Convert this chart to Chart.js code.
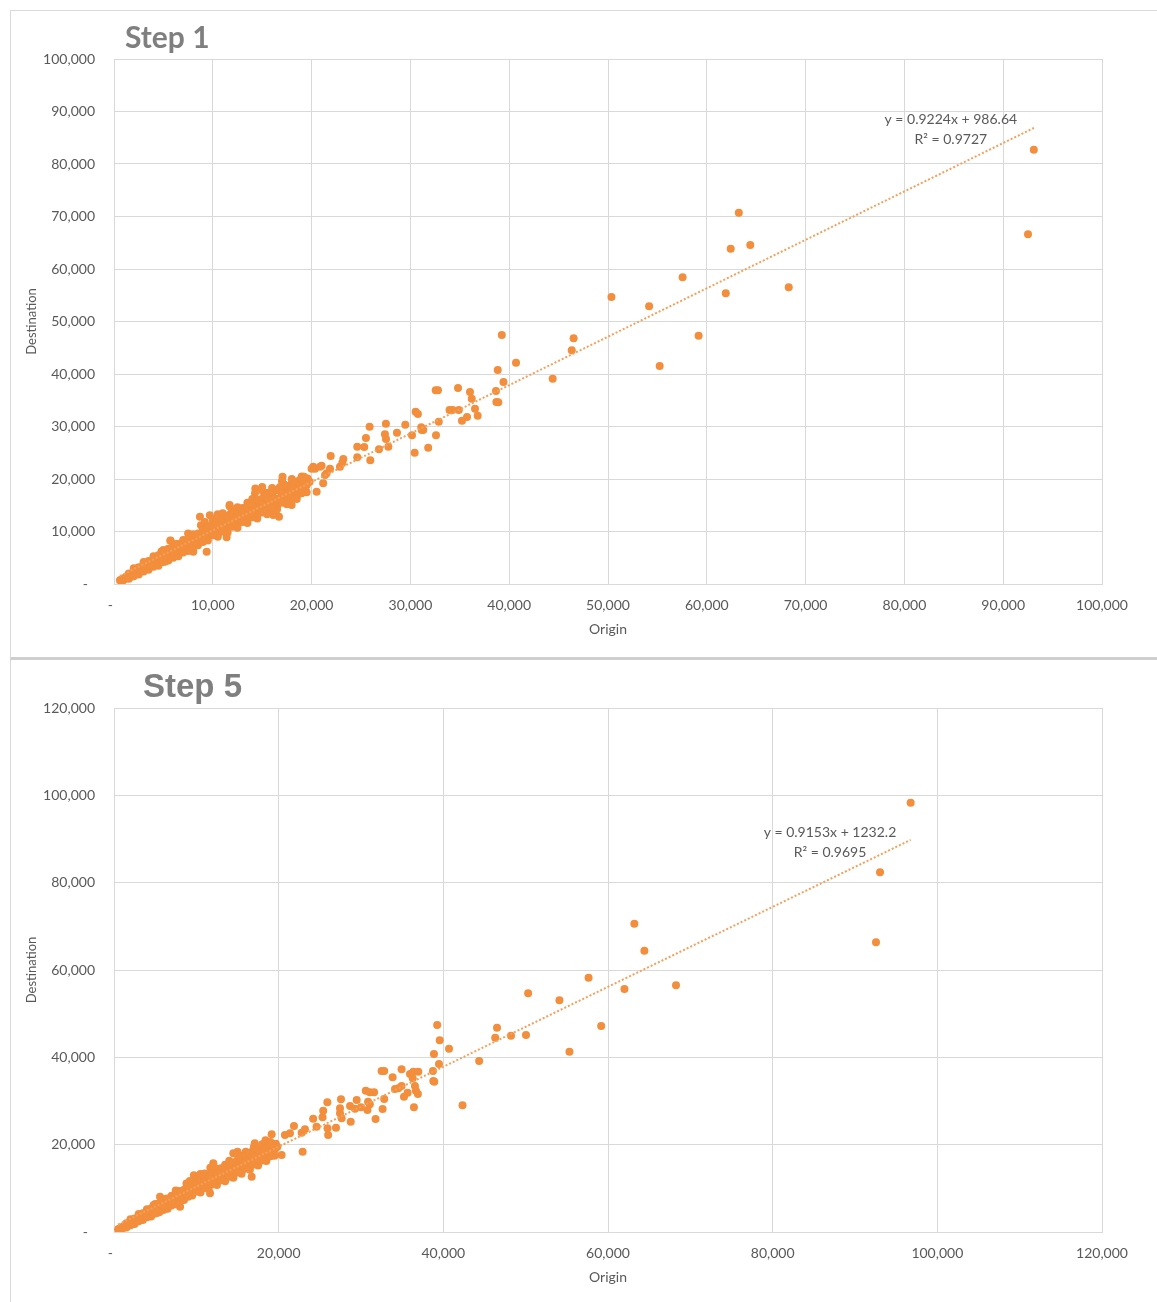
<!DOCTYPE html>
<html>
<head>
<meta charset="utf-8">
<script src="https://cdn.jsdelivr.net/npm/chart.js@4.4.0/dist/chart.umd.min.js"></script>
<style>
  html, body { margin: 0; padding: 0; background: #fff; }
  body { width: 1157px; height: 1302px; position: relative; overflow: hidden; }
  .panel { position: absolute; left: 10px; width: 1160px; box-sizing: border-box; }
  #p1 { top: 10px; height: 650px; border: 1px solid #d9d9d9; border-bottom: 3px solid #cfcfcf; }
  #p2 { top: 660px; height: 660px; border-left: 1px solid #d9d9d9; }
  .title { position: absolute; color: #7f7f7f; font-weight: bold; white-space: nowrap; }
  #t1 { left: 125px; top: 21px; font: bold 30px/30px Lato, "Open Sans", sans-serif; }
  #t2 { left: 143px; top: 669px; font: bold 33px/33px "Liberation Sans", Arial, sans-serif; }
  canvas { position: absolute; }
  #c1 { left: 10px; top: 10px; }
  #c2 { left: 10px; top: 660px; }
</style>
</head>
<body>
<div class="panel" id="p1"></div>
<div class="panel" id="p2"></div>
<canvas id="c1" width="1147" height="648"></canvas>
<canvas id="c2" width="1147" height="642"></canvas>
<div class="title" id="t1">Step 1</div>
<div class="title" id="t2">Step 5</div>
<script>
// ---- Step 1: origin vs destination pairs [origin, destination] ----
const step1Band = [
  [600,700],[800,900],[900,650],[1000,1100],[1100,950],[1200,1300],[1300,1150],[1400,1500],[1500,1250],[1600,1700],
  [1700,1400],[1800,1900],[1900,1650],[2000,2100],[2100,1800],[2200,2400],[2300,2000],[2400,2600],[2500,2250],[2600,2800],
  [2700,2450],[2800,3000],[2900,2600],[3000,3300],[3100,2750],[3200,3500],[3300,2950],[3400,3700],[3500,3150],[3600,3900],
  [3700,3350],[3800,4150],[3900,3500],[4000,4400],[4100,3700],[4200,4600],[4300,3850],[4400,4800],[4500,4050],[4600,5100],
  [4700,4250],[4800,5400],[4900,4450],[5000,5700],[5100,4600],[5200,5900],[5300,4800],[5400,6100],[5500,5000],[5600,6300],
  [5700,5200],[5800,6100],[5900,5400],[6000,6500],[6100,5500],[6200,6400],[6300,5700],[6400,6800],[6500,5900],[6600,7000],
  [6700,6100],[6800,6700],[6900,6300],[7000,7500],[7100,6500],[7200,7200],[7300,6800],[7400,7900],[7500,6900],[7600,7500],
  [7700,7100],[7800,8200],[7900,7400],[8000,8600],[8100,7600],[8200,8000],[8300,7800],[8400,9000],[8500,8100],[8600,8700],
  [8700,8300],[8800,9400],[8900,8500],[9000,9700],[9100,8700],[9200,10000],[9300,9000],[9400,10500],[9500,9200],[9600,11000],
  [9700,9500],[9800,10300],[9900,9800],[10000,11500],[10100,10000],[10200,12000],[10300,10300],[10400,11200],[10500,10400],[10600,11800],
  [10700,10700],[10800,12400],[10900,11000],[11000,12800],[11100,11300],[11200,12100],[11300,11500],[11400,13000],[11500,11800],[11600,12600],
  [11700,12000],[11800,13400],[11900,12300],[12000,13000],[12200,12400],[12400,13600],[12600,12700],[12800,13200],[13000,12900],[13200,13900],
  [13400,13200],[13600,14200],[13800,13500],[14000,14700],[14200,13900],[14400,15300],[14600,14300],[14800,16000],[15000,14600],[15200,16800],
  [15400,15000],[15600,17400],[15800,15500],[16000,17000],[16200,15800],[16400,17800],[16600,16300],[16800,18500],[17000,16700],[17200,19000],
  [17400,17200],[17600,18200],[17800,17500],[18000,19200],[18200,17800],[18400,18600],[18600,18200],[18800,19800],[19000,18600],[19200,19400],
  [19400,19000],[19600,20100],[19800,19500],
  [10500,9300],[11500,10500],[12500,11300],[13500,12000],[14500,13000],[15500,13800],[16500,14700],[17500,15900],[18500,16700],[6500,5300],
  [8000,6900],[4500,3700],[9700,13100],[11700,14800],[10500,13300],[12500,14600],[14300,18200],[15000,18500],[7500,9600],[5700,8300],
  [6300,7600],[5730,8250],[11400,8890],[9380,6160],[8020,6160],[8700,12830],[14270,17270],[15280,17270],[17060,20440],[17980,15050],
  [16700,12830],[16120,13140],[11700,15050]
];
const step1Edge = [
  [2000,3000],[3000,4200],[4000,5300],[4800,6200],[5000,6500],[6000,7400],[7000,8400],[8000,9500],[9000,10700],[10000,12300],
  [10500,12800],[11000,13500],[12000,14000],[13000,14500],[13500,15500],[14000,16200],[15000,17800],[16000,18300],[17000,19600],[18000,20000],
  [19000,20500],[2500,1800],[3500,2700],[4500,3500],[5200,4300],[5500,4500],[6500,5400],[7500,6300],[8500,7400],[9500,8300],
  [10500,9000],[11500,9800],[12500,10700],[13500,11600],[14500,12500],[15500,13300],[16500,14200],[17500,15200],[18500,16200],[19500,17500],
  [2500,2600],[3500,3500],[4500,4500],[5500,5500],[6500,6400],[7500,7300],[8500,8400],[9500,9900],[10500,10900],[11500,11900],
  [12500,12400],[13500,13400],[14500,14200],[15500,15400],[16500,16200],[17500,17000],[18500,17900],[19500,18800],[8800,11200],[9200,11800]
];
const step1Fill = [
  [1500,2000],[2000,2600],[2500,3200],[3000,3800],[3500,4400],[4000,4900],[4500,5500],[5000,6000],[5500,6700],[6000,7000],
  [6500,7600],[7000,7900],[7500,8600],[8000,9000],[8500,9600],[9000,10200],[9500,10800],[10000,11000],[10500,11700],[11000,12200],
  [11500,12700],[12000,13500],[12500,13200],[13000,14000],[13500,14600],[14000,15200],[14500,16000],[15000,16300],[15500,16800],[16000,17600],
  [16500,18000],[17000,18300],[17500,18700],[18000,18500],[18500,19500],[19000,19900],
  [1500,1000],[2000,1500],[3000,2400],[4000,3300],[5000,4200],[6000,5000],[7000,6000],[8000,7000],[9000,8000],[10000,9300],
  [11000,10000],[12000,10900],[13000,11800],[14000,12700],[15000,13600],[16000,14500],[17000,15500],[18000,16400],[19000,17300],
  [5000,5000],[6000,6000],[7000,7000],[8000,8000],[9000,9000],[10000,10500],[11000,11500],[12000,12000],[13000,13000],[14000,13800],
  [15000,15200],[16000,15900],[17000,17300],[18000,18000],[19000,18200]
];
const step1Mid = [
  [19230,20440],[20000,21970],[20340,21970],[21010,22540],[21860,21970],[21930,24380],[21520,21080],[21360,20760],[20160,22350],[20850,22350],
  [21170,19180],[20510,17590],[22870,22350],[23110,23110],[23210,23810],[24620,24130],[25940,23560],[24620,26160],[25330,26100],[25500,27810],
  [25870,29960],[26820,25650],[27420,28510],[27530,27620],[27770,26160],[27520,30540],[28640,28830],[29480,30350],[30160,28320],[30430,25010],
  [31800,25960],[32590,28320],[31140,29330],[31300,29330],[30530,32830],[30760,32380],[32870,30920],[31100,29850],[32560,36890],[32790,36890],
  [34820,37330],[36030,36570],[36210,35300],[36540,33390],[36810,32060],[33960,33140],[34270,33140],[34900,33140],[35730,31810],[35220,31110],
  [38660,36760],[38700,34670],[38900,34600],[38840,40760],[39420,38480],[39250,47430],[40690,42160],[44400,39110],[46330,44510],[46520,46790]
];
const step1Far = [
  [50350,54670],[54160,52890],[55230,41520],[57550,58410],[59170,47300],[61920,55370],[62420,63870],[63240,70730],[64400,64570],[68290,56510],
  [92510,66600],[93100,82700]
];
const step1Slope = 0.9224, step1Intercept = 986.64, step1R2 = '0.9727';
const step1Ticks = [0,10000,20000,30000,40000,50000,60000,70000,80000,90000,100000];

// ---- Step 5: origin vs destination pairs [origin, destination] ----
const step5Band = [
  [500,650],[700,800],[850,600],[1000,1150],[1100,900],[1250,1350],[1350,1100],[1450,1550],[1550,1300],[1650,1750],
  [1750,1450],[1850,1950],[1950,1700],[2050,2150],[2150,1850],[2250,2450],[2350,2050],[2450,2650],[2550,2300],[2650,2850],
  [2750,2500],[2850,3100],[2950,2650],[3050,3350],[3150,2800],[3250,3600],[3350,3000],[3450,3800],[3550,3200],[3650,4000],
  [3750,3400],[3850,4300],[3950,3550],[4050,4500],[4150,3750],[4250,4700],[4350,3900],[4450,4900],[4550,4100],[4650,5200],
  [4750,4300],[4850,5500],[4950,4500],[5050,5800],[5150,4650],[5250,6000],[5350,4850],[5450,6200],[5550,5050],[5650,6400],
  [5750,5250],[5850,6200],[5950,5450],[6050,6600],[6150,5550],[6250,6500],[6350,5750],[6450,6900],[6550,5950],[6650,7100],
  [6750,6150],[6850,6800],[6950,6350],[7050,7600],[7150,6550],[7250,7300],[7350,6850],[7450,8000],[7550,6950],[7650,7600],
  [7750,7150],[7850,8300],[7950,7450],[8050,8700],[8150,7650],[8250,8100],[8350,7850],[8450,9100],[8550,8150],[8650,8800],
  [8750,8350],[8850,9500],[8950,8550],[9050,9800],[9150,8750],[9250,10100],[9350,9050],[9450,10600],[9550,9250],[9650,11100],
  [9750,9550],[9850,10400],[9950,9850],[10050,11600],[10150,10050],[10250,12100],[10350,10350],[10450,11300],[10550,10450],[10650,11900],
  [10750,10750],[10850,12500],[10950,11050],[11050,12900],[11150,11350],[11250,12200],[11350,11550],[11450,13100],[11550,11850],[11650,12700],
  [11750,12050],[11850,13500],[11950,12350],[12050,13100],[12250,12450],[12450,13700],[12650,12750],[12850,13300],[13050,12950],[13250,14000],
  [13450,13250],[13650,14300],[13850,13550],[14050,14800],[14250,13950],[14450,15400],[14650,14350],[14850,16100],[15050,14650],[15250,16900],
  [15450,15050],[15650,17500],[15850,15550],[16050,17100],[16250,15850],[16450,17900],[16650,16350],[16850,18600],[17050,16750],[17250,19100],
  [17450,17250],[17650,18300],[17850,17550],[18050,19300],[18250,17850],[18450,18700],[18650,18250],[18850,19900],[19050,18650],[19250,19500],
  [19450,19050],[19650,20200],[19850,19550],
  [10500,9300],[11500,10400],[12500,11300],[13500,12100],[14500,13000],[15500,13900],[16500,14800],[17500,15800],[18500,16700],[6500,5300],
  [8000,6900],[4500,3700],[9700,13000],[11700,14700],[10500,13300],[12500,14500],[14490,18030],[15000,18400],[7500,9500],[5590,8080],
  [6300,7600],[8020,5800],[11660,8860],[12060,15730],[16720,12670],[17100,20300],[18400,21000]
];
const step5Edge = [
  [2000,2900],[3000,4100],[4000,5200],[4800,6100],[5000,6400],[6000,7300],[7000,8300],[8000,9400],[9000,10600],[10000,12200],
  [10500,12700],[11000,13400],[12000,14100],[13000,14600],[13500,15400],[14000,16300],[15000,17700],[16000,18400],[17000,19500],[18000,20100],
  [19000,20600],[2500,1850],[3500,2750],[4500,3550],[5200,4350],[5500,4550],[6500,5450],[7500,6350],[8500,7350],[9500,8350],
  [10500,9050],[11500,9850],[12500,10750],[13500,11650],[14500,12450],[15500,13350],[16500,14250],[17500,15250],[18500,16250],[19500,17450],
  [2500,2650],[3500,3550],[4500,4550],[5500,5450],[6500,6450],[7500,7350],[8500,8450],[9500,9850],[10500,10850],[11500,11850],
  [12500,12450],[13500,13450],[14500,14250],[15500,15350],[16500,16250],[17500,17050],[18500,17850],[19500,18750],[8800,11100],[9200,11700]
];
const step5Fill = [
  [1500,2000],[2000,2500],[2500,3100],[3000,3700],[3500,4300],[4000,4900],[4500,5400],[5000,6000],[5500,6600],[6000,7100],
  [6500,7700],[7000,8000],[7500,8500],[8000,9100],[8500,9700],[9000,10100],[9500,10700],[10000,11100],[10500,11800],[11000,12100],
  [11500,12800],[12000,13400],[12500,13300],[13000,14100],[13500,14500],[14000,15300],[14500,15900],[15000,16400],[15500,16700],[16000,17500],
  [16500,18100],[17000,18200],[17500,18800],[18000,18600],[18500,19400],[19000,19800],
  [1500,1050],[2000,1550],[3000,2450],[4000,3350],[5000,4250],[6000,5050],[7000,6050],[8000,7050],[9000,8050],[10000,9250],
  [11000,10050],[12000,10950],[13000,11850],[14000,12650],[15000,13650],[16000,14550],[17000,15450],[18000,16350],[19000,17350],
  [5000,5050],[6000,5950],[7000,7050],[8000,7950],[9000,9050],[10000,10450],[11000,11450],[12000,12050],[13000,12950],[14000,13850],
  [15000,15150],[16000,15950],[17000,17250],[18000,18050],[19000,18250]
];
const step5Mid = [
  [19150,22370],[20360,17630],[20760,22210],[21370,22590],[22790,22740],[23190,23510],[21860,24270],[22910,18390],[24190,25950],[24600,24120],
  [25330,26260],[25410,27780],[25910,29690],[25930,23740],[26010,22210],[26960,23880],[27450,28330],[27450,27180],[27650,26040],[27570,30390],
  [28670,28860],[28750,25270],[29270,28250],[29480,30230],[30000,28560],[30580,32370],[31070,31990],[31590,31990],[30860,29840],[31070,29250],
  [30780,27940],[31770,25880],[32620,28170],[32820,30460],[32500,36870],[32820,36870],[33840,35420],[34130,32750],[34530,32900],[34930,33430],
  [34930,37260],[35220,30990],[35660,31900],[35950,36180],[36280,35190],[36350,36710],[36960,36710],[36430,28560],[36550,33430],[36670,32370],
  [36910,31620],[38740,36870],[38780,34580],[38900,34430],[38860,40760],[39470,38470],[39250,47400],[39560,43900],[40690,41990],[42330,29010],
  [44350,39160],[46300,44500],[46520,46800],[48220,44960],[50040,45120]
];
const step5Far = [
  [50300,54700],[54100,53050],[55320,41290],[57640,58240],[59170,47180],[62000,55650],[63200,70600],[64420,64420],[68260,56500],[92550,66350],
  [93040,82380],[96760,98320]
];
const step5Slope = 0.9153, step5Intercept = 1232.2, step5R2 = '0.9695';
const step5Ticks = [0,20000,40000,60000,80000,100000,120000];

// ---- drawing ----
const FONT = 'Lato, "Open Sans", sans-serif';
const TEXT = '#595959';
const GRID = '#d9d9d9';
const DOT = '#F28E3C';

const fmtTick = v => v === 0 ? '-  ' : v.toLocaleString('en-US');

const trendLabel = {
  id: 'trendLabel',
  afterDatasetsDraw(chart, args, opts) {
    const { ctx, scales: { x, y } } = chart;
    const px = x.getPixelForValue(opts.at[0]);
    const py = y.getPixelForValue(opts.at[1]);
    ctx.save();
    ctx.font = '14px ' + FONT;
    ctx.fillStyle = TEXT;
    ctx.textAlign = 'center';
    ctx.textBaseline = 'middle';
    opts.lines.forEach((t, i) => ctx.fillText(t, px, py + i * 20));
    ctx.restore();
  }
};

function buildChart(id, o) {
  const all = o.sets.flat();
  const xs = all.map(p => p[0]);
  const xa = Math.min(...xs), xb = Math.max(...xs);
  const trend = [
    { x: xa, y: o.slope * xa + o.intercept },
    { x: xb, y: o.slope * xb + o.intercept }
  ];
  const ticksFrom = arr => s => { s.ticks = arr.map(v => ({ value: v })); };
  return new Chart(document.getElementById(id), {
    type: 'scatter',
    data: {
      datasets: [
        { data: all.map(p => ({ x: p[0], y: p[1] })), backgroundColor: DOT, borderWidth: 0,
          pointRadius: 4, pointHoverRadius: 4, order: 2 },
        { type: 'line', data: trend, borderColor: '#F4A05A', borderWidth: 2, borderDash: [2, 2],
          pointRadius: 0, fill: false, tension: 0, order: 1 }
      ]
    },
    options: {
      responsive: false, animation: false, devicePixelRatio: 1, events: [],
      layout: { padding: { top: o.padTop, right: 55, left: 0, bottom: 0 } },
      plugins: {
        legend: { display: false }, tooltip: { enabled: false },
        trendLabel: { at: o.labelAt, lines: o.labelLines }
      },
      scales: {
        x: {
          type: 'linear', min: 0, max: o.xTicks[o.xTicks.length - 1],
          afterBuildTicks: ticksFrom(o.xTicks),
          afterFit: s => { s.height = o.xAxisH; },
          grid: { color: GRID, drawTicks: false },
          border: { color: GRID },
          ticks: { callback: fmtTick, color: TEXT, font: { family: FONT, size: 14 }, padding: 13, maxRotation: 0 },
          title: { display: true, text: 'Origin', color: TEXT, font: { family: FONT, size: 14 },
                   padding: { top: 0, bottom: o.xTitlePad } }
        },
        y: {
          type: 'linear', min: 0, max: o.yTicks[o.yTicks.length - 1],
          afterBuildTicks: ticksFrom(o.yTicks),
          afterFit: s => { s.width = 104; },
          grid: { color: GRID, drawTicks: false },
          border: { color: GRID },
          ticks: { callback: fmtTick, color: TEXT, font: { family: FONT, size: 14 }, padding: 19 },
          title: { display: true, text: 'Destination', color: TEXT, font: { family: FONT, size: 13 },
                   padding: { top: 14, bottom: 0 } }
        }
      }
    },
    plugins: [trendLabel]
  });
}

buildChart('c1', {
  sets: [step1Band, step1Edge, step1Fill, step1Mid, step1Far],
  slope: step1Slope, intercept: step1Intercept,
  xTicks: step1Ticks, yTicks: step1Ticks,
  padTop: 49, xAxisH: 74, xTitlePad: 20,
  labelAt: [84700, 88570],
  labelLines: ['y = ' + step1Slope + 'x + ' + step1Intercept, 'R\u00B2 = ' + step1R2]
});

buildChart('c2', {
  sets: [step5Band, step5Edge, step5Fill, step5Mid, step5Far],
  slope: step5Slope, intercept: step5Intercept,
  xTicks: step5Ticks, yTicks: step5Ticks,
  padTop: 48, xAxisH: 70, xTitlePad: 16,
  labelAt: [86960, 91600],
  labelLines: ['y = ' + step5Slope + 'x + ' + step5Intercept, 'R\u00B2 = ' + step5R2]
});
</script>
</body>
</html>
